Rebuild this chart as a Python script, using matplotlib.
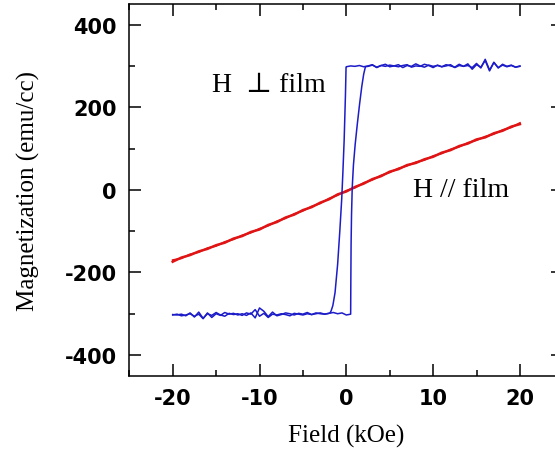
import numpy as np
import matplotlib
matplotlib.use("Agg")
import matplotlib.pyplot as plt
from matplotlib.ticker import MultipleLocator

plt.rcParams['axes.unicode_minus'] = False

# ---- data (field in kOe, magnetization in emu/cc) ----
# H perpendicular to film: square-ish hysteresis loop
asc_low_H = np.arange(-20, 0.51, 0.5)
asc_low_M = [-302, -303, -301, -305, -298, -308, -296, -311, -300, -304,
             -297, -303, -306, -299, -302, -300, -304, -298, -301, -290,
             -306, -299, -309, -301, -303, -300, -302, -305, -299, -301,
             -303, -300, -302, -298, -300, -301, -299, -297, -300, -298,
             -303, -301]
asc_sw_H = [0.5, 0.52, 0.55, 0.6, 0.68, 0.82, 1.02, 1.27, 1.53, 1.78, 2.0, 2.2]
asc_sw_M = [-301, -220, -130, -60, 5, 60, 110, 160, 208, 250, 280, 298]
asc_top_H = np.arange(2.5, 20.01, 0.5)
asc_top_M = [299, 302, 297, 301, 304, 298, 300, 303, 296, 301,
             299, 305, 300, 297, 302, 299, 301, 298, 303, 300,
             297, 304, 299, 301, 296, 306, 295, 316, 290, 308,
             296, 302, 298, 301, 297, 299]

desc_top_H = np.arange(20, -0.01, -0.5)
desc_top_M = [300, 297, 302, 299, 304, 295, 309, 288, 313, 297,
              303, 292, 305, 299, 301, 296, 303, 300, 298, 302,
              296, 301, 304, 299, 300, 297, 303, 301, 298, 300,
              302, 299, 301, 296, 303, 300, 298, 301, 299, 300, 298]
desc_sw_H = [-0.03, -0.1, -0.25, -0.4, -0.53, -0.75, -1.0, -1.3, -1.55, -1.75, -1.88]
desc_sw_M = [297, 230, 120, 40, -22, -100, -180, -249, -280, -293, -298]
desc_low_H = np.arange(-2, -20.01, -0.5)
desc_low_M = [-299, -301, -298, -300, -302, -297, -301, -299, -303, -300,
              -298, -302, -305, -296, -307, -294, -286, -310, -298, -304,
              -300, -303, -299, -301, -297, -304, -300, -309, -298, -312,
              -301, -306, -300, -303, -305, -301, -303]

# H parallel to film: nearly linear, two sweeps
red_H = np.arange(-20, 20.01, 1)
red_up = [-174, -164, -158, -149, -143, -134, -128, -118, -112, -102,
          -96, -85, -78, -67, -60, -49, -42, -31, -23, -11,
          -4, 7, 15, 26, 33, 44, 50, 60, 65, 74,
          80, 90, 96, 106, 112, 122, 127, 137, 143, 153, 159]
red_down = [-170, -166, -156, -151, -141, -136, -126, -120, -110, -104,
            -94, -87, -76, -69, -58, -51, -40, -33, -21, -13,
            -2, 5, 17, 24, 35, 42, 52, 58, 67, 72,
            82, 88, 98, 104, 114, 120, 129, 135, 145, 151, 162]

x_ticks = [-20, -10, 0, 10, 20]
y_ticks = [-400, -200, 0, 200, 400]

blue = '#1c1cc8'
red = '#e01414'

fig = plt.figure(figsize=(5.55, 4.52), dpi=100)
ax = fig.add_axes([0.233, 0.1666, 0.782, 0.8224])

asc_H = np.concatenate([asc_low_H, asc_sw_H, asc_top_H])
asc_M = np.concatenate([asc_low_M, asc_sw_M, asc_top_M])
desc_H = np.concatenate([desc_top_H, desc_sw_H, desc_low_H])
desc_M = np.concatenate([desc_top_M, desc_sw_M, desc_low_M])

ax.plot(red_H, red_up, color=red, lw=1.8)
ax.plot(red_H[::-1], red_down[::-1], color=red, lw=1.3)
ax.plot(asc_H, asc_M, color=blue, lw=1.1)
ax.plot(desc_H, desc_M, color=blue, lw=1.1)

ax.set_xlim(-25, 25)
ax.set_ylim(-450, 450)
ax.set_xticks(x_ticks)
ax.set_yticks(y_ticks)
ax.xaxis.set_minor_locator(MultipleLocator(5))
ax.yaxis.set_minor_locator(MultipleLocator(100))
ax.tick_params(which='both', direction='in', top=True, right=True, width=1.1)
ax.tick_params(which='major', length=8.6)
ax.tick_params(which='minor', length=4.3)
ax.tick_params(axis='x', pad=9)
ax.tick_params(axis='y', pad=9)
for lab in ax.get_xticklabels() + ax.get_yticklabels():
    lab.set_fontfamily('DejaVu Sans')
    lab.set_fontweight('bold')
    lab.set_fontsize(15)
for sp in ax.spines.values():
    sp.set_linewidth(1.1)

serif = ['Liberation Serif', 'DejaVu Serif']
ax.set_xlabel('Field (kOe)', fontsize=18, family=serif, labelpad=11)
ax.set_ylabel('Magnetization (emu/cc)', fontsize=18, family=serif, labelpad=18)

ax.text(-15.5, 255, 'H  \u22a5 film', fontsize=20, family=serif,
        ha='left', va='center')
ax.text(7.7, 0, 'H // film', fontsize=20, family=serif,
        ha='left', va='center')

fig.savefig('out.png', dpi=100)
